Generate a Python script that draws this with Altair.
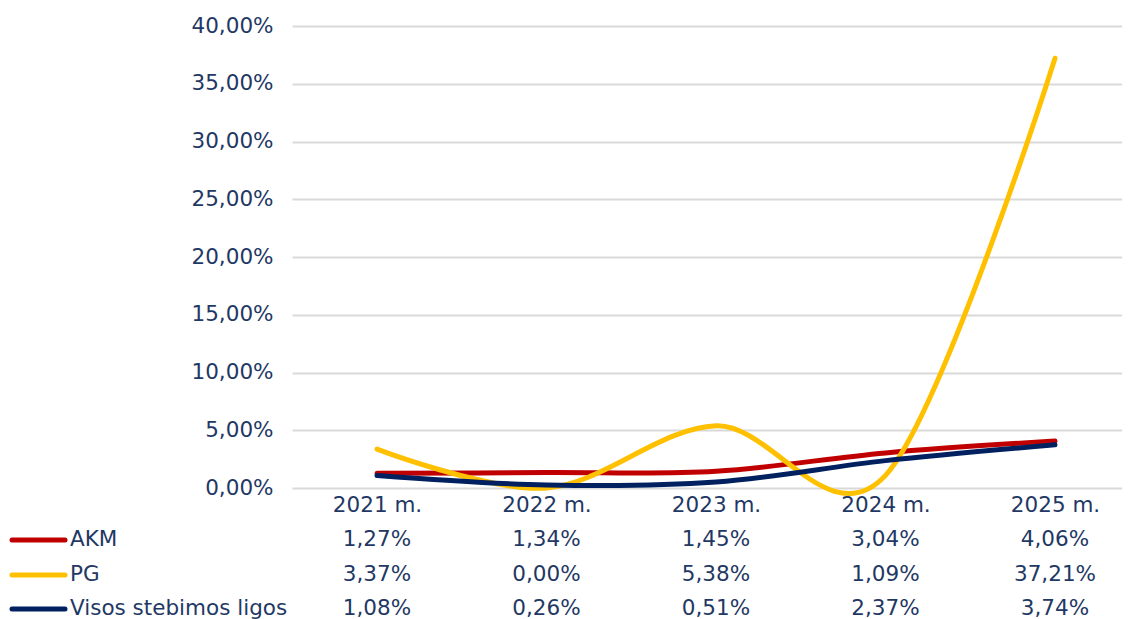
import json
import altair as alt
import pandas as pd

categories = ["2021 m.", "2022 m.", "2023 m.", "2024 m.", "2025 m."]
series = ["AKM", "PG", "Visos stebimos ligos"]
akm = [1.27, 1.34, 1.45, 3.04, 4.06]
pg = [3.37, 0.00, 5.38, 1.09, 37.21]
visos = [1.08, 0.26, 0.51, 2.37, 3.74]
colors = ["#C00000", "#FFC000", "#002060"]
y_ticks = [0, 5, 10, 15, 20, 25, 30, 35, 40]

FONT = "DejaVu Sans"
TEXT = "#1F3864"
FS = 21.5

rows = []
for s, vals in zip(series, [akm, pg, visos]):
    for i, (c, v) in enumerate(zip(categories, vals)):
        rows.append({"series": s, "cat": c, "idx": i, "value": v,
                     "label": f"{v:.2f}".replace(".", ",") + "%"})
df = pd.DataFrame(rows)

W = 830
STEP = 169.5
x_scale = alt.Scale(domain=[-85 / STEP, -85 / STEP + W / STEP], nice=False, zero=False)
cat_expr = json.dumps(categories) + "[datum.value]"

lines = alt.Chart(df).mark_line(interpolate="cardinal", tension=0, strokeWidth=5, strokeCap="round").encode(
    x=alt.X("idx:Q", scale=x_scale,
            axis=alt.Axis(title=None, values=list(range(len(categories))), labelExpr=cat_expr,
                          labelAngle=0, ticks=False, domain=False, grid=False,
                          labelFontSize=FS, labelFont=FONT, labelColor=TEXT, labelPadding=6)),
    y=alt.Y("value:Q", scale=alt.Scale(domain=[0, 40], nice=False),
            axis=alt.Axis(title=None, values=y_ticks, ticks=False, domain=False,
                          labelExpr="replace(format(datum.value, '.2f'), '.', ',') + '%'",
                          gridColor="#D9D9D9", gridWidth=2,
                          labelFontSize=FS, labelFont=FONT, labelColor=TEXT, labelPadding=19)),
    color=alt.Color("series:N", scale=alt.Scale(domain=series, range=colors), legend=None),
    order=alt.Order("idx:Q"),
)

row_y = [514, 549, 583]
layers = [lines]
for s, c, ry in zip(series, colors, row_y):
    sub = df[df.series == s]
    layers.append(
        alt.Chart(sub).mark_text(fontSize=FS, font=FONT, color=TEXT, baseline="middle").encode(
            x=alt.X("idx:Q", scale=x_scale),
            y=alt.value(ry),
            text="label:N",
        )
    )
    key_df = pd.DataFrame({"series": [s]})
    layers.append(
        alt.Chart(key_df).mark_rule(strokeWidth=5, strokeCap="round", color=c).encode(
            x=alt.value(-280), x2=alt.value(-227), y=alt.value(ry)
        )
    )
    layers.append(
        alt.Chart(key_df).mark_text(fontSize=FS, font=FONT, color=TEXT, align="left", baseline="middle").encode(
            x=alt.value(-222), y=alt.value(ry), text="series:N"
        )
    )

chart = alt.layer(*layers).properties(
    width=W, height=462,
    autosize=alt.AutoSizeParams(type="none"),
    padding={"left": 284, "top": 18, "right": 0, "bottom": 131},
).configure_view(stroke=None)

chart.save("out.html", embed_options={"renderer": "svg", "actions": False})
